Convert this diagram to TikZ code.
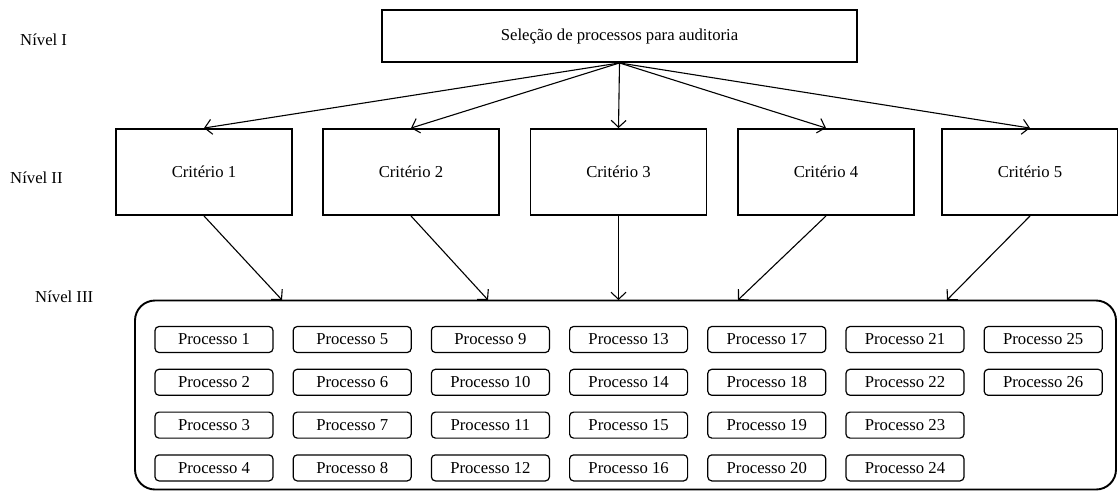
\documentclass[tikz,border=0pt]{standalone}
\usepackage{fontspec}
\setmainfont{Liberation Serif}
\usetikzlibrary{arrows.meta}
\begin{document}
\begin{tikzpicture}[x=1pt,y=-1pt,
  every node/.style={font=\fontsize{16.7}{20}\selectfont},
  topbox/.style={draw,line width=1.9pt,minimum width=475pt,minimum height=52pt,inner sep=0pt},
  critbox/.style={draw,line width=1.9pt,minimum width=176pt,minimum height=86pt,inner sep=0pt},
  procbox/.style={draw,line width=1.2pt,rounded corners=4pt,minimum width=118pt,minimum height=26pt,inner sep=0pt},
  bigbox/.style={draw,line width=1.9pt,rounded corners=20pt},
  lvl/.style={anchor=west,inner sep=0pt},
  conn/.style={line width=1.1pt,-{Straight Barb[length=7pt,width=15pt,line width=1.1pt]}}]
\useasboundingbox (0,0) rectangle (1118,493);
% levels
\node[lvl] (n1) at (20,40) {Nível I};
\node[lvl] (n2) at (10,178) {Nível II};
\node[lvl] (n3) at (35,297) {Nível III};
% top
\node[topbox] (top) at (619.5,36) {Seleção de processos para auditoria};
% criteria
\node[critbox] (c1) at (204,172) {Critério 1};
\node[critbox] (c2) at (411,172) {Critério 2};
\node[critbox] (c3) at (618.5,172) {Critério 3};
\node[critbox] (c4) at (826,172) {Critério 4};
\node[critbox] (c5) at (1030,172) {Critério 5};
% big container
\node[bigbox,minimum width=981pt,minimum height=189pt,inner sep=0pt] (big) at (625.5,395) {};
% processes
\foreach \c in {1,...,7}{
  \foreach \r in {1,...,4}{
    \pgfmathtruncatemacro{\n}{4*(\c-1)+\r}
    \ifnum\n<27
      \node[procbox] (p\n) at ({214+138.2*(\c-1)},{339.5+42.8*(\r-1)}) {Processo \n};
    \fi
  }
}
% connectors top -> criteria
\coordinate (o) at (top.south);
\foreach \i in {1,...,5}{ \draw[conn] (o) -- (c\i.north); }
% criteria -> container
\coordinate (t1) at (282,300);
\coordinate (t2) at (488,300);
\coordinate (t3) at (618.5,300);
\coordinate (t4) at (738,300);
\coordinate (t5) at (947,300);
\foreach \i in {1,...,5}{ \draw[conn] (c\i.south) -- (t\i); }
\end{tikzpicture}
\end{document}
